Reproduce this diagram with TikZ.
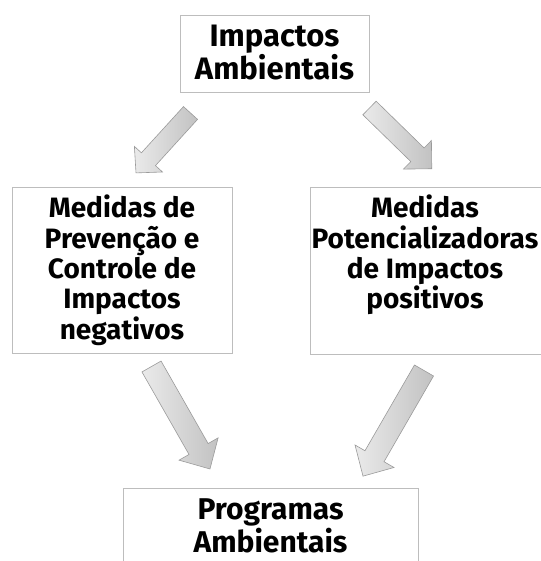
\documentclass[tikz,border=0pt]{standalone}
\usepackage{fontspec}
\setmainfont[Ligatures=NoCommon]{Fira Sans}
\definecolor{boxgray}{HTML}{BDBDBD}
\definecolor{arrowline}{HTML}{9A9A9A}
\definecolor{arrowlight}{HTML}{EAEAEA}
\definecolor{arrowdark}{HTML}{C2C2C2}
\tikzset{
  boxnode/.style={draw=boxgray, line width=0.9pt, fill=white, inner sep=0pt},
  boxtext/.style={align=center, inner sep=0pt, text=black},
  blockarrowstyle/.style={draw=arrowline, line width=0.6pt, left color=arrowlight, right color=arrowdark},
}
% name, tail x, tail y, angle, length, shaft width, head width, head length
\newcommand{\myblockarrow}[8]{%
  \begin{scope}[shift={(#2,#3)}, rotate=#4]
    \coordinate (#1) at (0,0);
    \path[blockarrowstyle] (0,{-#6/2}) -- ({#5-#8},{-#6/2}) -- ({#5-#8},{-#7/2})
      -- (#5,0) -- ({#5-#8},{#7/2}) -- ({#5-#8},{#6/2}) -- (0,{#6/2}) -- cycle;
  \end{scope}}
\begin{document}
\begin{tikzpicture}[x=1pt,y=1pt]
  \useasboundingbox (0,0) rectangle (540,561);
  % boxes
  \node[boxnode, minimum width=189pt, minimum height=77pt] (top) at (274.5,507.5) {};
  \node[boxnode, minimum width=220pt, minimum height=166pt] (left) at (122,291) {};
  \node[boxnode, minimum width=231pt, minimum height=167pt] (right) at (425.5,290.5) {};
  \node[boxnode, minimum width=295pt, minimum height=90pt] (bottom) at (270.5,28) {};
  % texts
  \node[boxtext, font=\fontsize{31}{32}\selectfont\bfseries, anchor=north] (toptext) at (274.5,536) {Impactos\\Ambientais};
  \node[boxtext, font=\fontsize{28}{30.3}\selectfont\bfseries, anchor=north] (lefttext) at (122,366) {Medidas de\\Prevenção e\\Controle de\\Impactos\\negativos};
  \node[boxtext, font=\fontsize{28}{30.3}\selectfont\bfseries, anchor=north] (righttext) at (425,366) {Medidas\\Potencializadoras\\de Impactos\\positivos};
  \node[boxtext, font=\fontsize{30}{33}\selectfont\bfseries, anchor=north] (bottomtext) at (270.5,62) {Programas\\Ambientais};
  % arrows
  \myblockarrow{a1}{190.5}{448}{227.7}{81}{19}{38}{18.5}
  \myblockarrow{a2}{369.5}{453}{-44.3}{87}{19}{40}{20}
  \myblockarrow{a3}{151.5}{194.5}{-60.3}{118}{22}{45}{23}
  \myblockarrow{a4}{424}{190.5}{240}{122}{22}{45}{23}
\end{tikzpicture}
\end{document}
